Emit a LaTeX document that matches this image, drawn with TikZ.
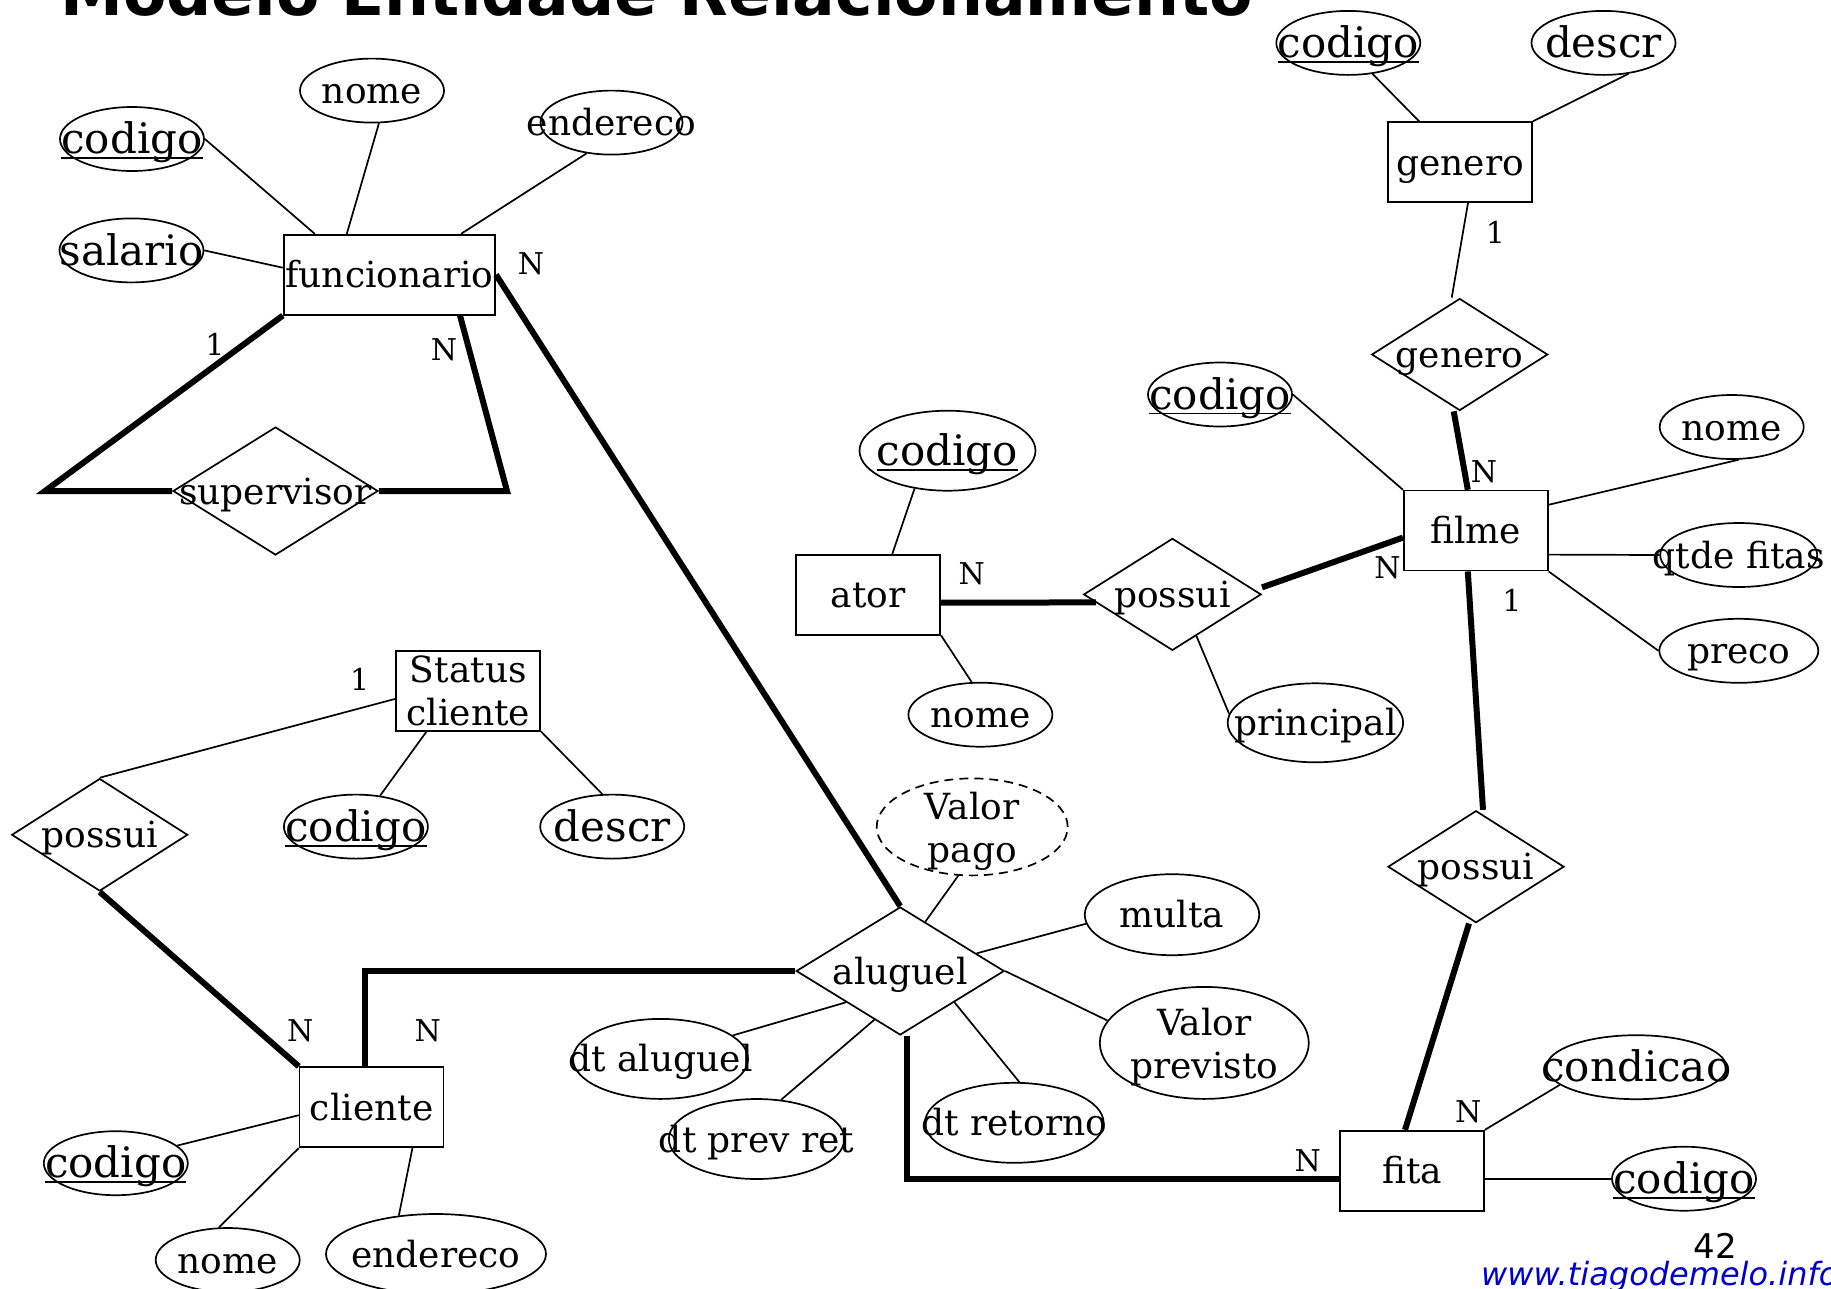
\documentclass[tikz,border=0pt]{standalone}
\usepackage{fontspec}
\setmainfont{DejaVu Serif}
\newfontfamily\titulofont{DejaVu Sans}
\newfontfamily\rodapefont{DejaVu Sans}
\usetikzlibrary{shapes.geometric}
\definecolor{azul}{RGB}{0,0,205}
\newcommand{\fonteN}{\fontsize{36}{43}\selectfont}
\newcommand{\fonteG}{\fontsize{42}{50}\selectfont}
\newcommand{\sublinha}[1]{\setbox0=\hbox{#1}\rlap{\rule[-0.125em]{\wd0}{1.7pt}}\box0}
\tikzset{
	forma/.style={draw, line width=1.7pt, inner sep=0pt},
	lin/.style={text height=26pt, text depth=0pt},
	ling/.style={font=\fonteG, text height=29.4pt, text depth=0pt},
	every label/.style={inner sep=0pt, align=center, font=\fonteN},
	atrib/.style={forma, ellipse, minimum width=144pt, minimum height=64pt, label={[lin]center:#1}},
	atribm/.style={forma, ellipse, minimum width=144pt, minimum height=64pt, label={[yshift=-4pt]center:#1}},
	atribg/.style={forma, ellipse, minimum width=144pt, minimum height=64pt, label={[ling]center:#1}},
	chave/.style={forma, ellipse, minimum width=144pt, minimum height=64pt, label={[ling]center:\sublinha{#1}}},
	relac/.style={forma, diamond, minimum width=176pt, minimum height=112pt, label={[lin]center:#1}},
	entbase/.style={forma, rectangle, minimum width=144pt, minimum height=80pt, align=center, font=\fonteN},
	entid/.style={entbase, lin},
	card/.style={inner sep=0pt, font=\fontsize{30}{36}\selectfont},
	liga/.style={line width=1.7pt},
	ligatotal/.style={line width=6pt},
}
\begin{document}
\begin{tikzpicture}[x=1pt, y=-1pt]
	\useasboundingbox (0,0) rectangle (1831,1288);
	%titulo e rodape
	\node[anchor=base west, inner sep=0pt, font=\titulofont\bfseries\fontsize{63.2}{70}\selectfont] (titulo) at (60,15) {Modelo Entidade Relacionamento};
	\node[inner sep=0pt, font=\rodapefont\fontsize{34}{40}\selectfont] (pagina) at (1715,1246) {42};
	\node[anchor=base west, inner sep=0pt, text=azul, font=\rodapefont\itshape\fontsize{32}{38}\selectfont] (site) at (1481,1285) {www.tiagodemelo.info};

	%funcionario
	\node[entid, minimum width=211.5pt] (func) at (389.4,274.7) {funcionario};
	\node[chave=codigo] (fcod) at (132,139) {};
	\node[atrib=nome] (fnome) at (372,90.6) {};
	\node[atrib=endereco, minimum width=142pt] (fend) at (611.5,122.6) {};
	\node[atribg=salario] (fsal) at (131.5,250.4) {};
	\draw[liga] (fcod.east) -- ([xshift=32pt]func.north west);
	\draw[liga] (fnome.-78) -- ([xshift=64pt]func.north west);
	\draw[liga] (fend.-129) -- ([xshift=-35pt]func.north east);
	\draw[liga] (fsal.east) -- ([yshift=7pt]func.west);
	%supervisor
	\node[relac=supervisor, minimum width=205pt, minimum height=128pt] (sup) at (275.5,491) {};
	\coordinate (supE) at (45,491);
	\coordinate (supD) at (507,491);
	\draw[ligatotal] (func.south west) -- (supE) -- (sup.west);
	\draw[ligatotal] (sup.east) -- (supD) -- ([xshift=-36pt]func.south east);
	\node[card] (c1) at (215,344) {1};
	\node[card] (c2) at (444,350) {N};

	%genero
	\node[entid] (genr) at (1460,162.2) {genero};
	\node[chave=codigo] (gcod) at (1348.3,42.9) {};
	\node[atribg=descr] (gdescr) at (1603.5,42.9) {};
	\node[relac=genero] (gend) at (1459.7,354.5) {};
	\draw[liga] (gcod.-52) -- ([xshift=32pt]genr.north west);
	\draw[liga] (gdescr.-51) -- (genr.north east);
	\draw[liga] ([xshift=8pt]genr.south) -- ([xshift=-8pt]gend.north);
	\node[card] (c3) at (1495.5,232.5) {1};

	%filme
	\node[entid] (filme) at (1475.8,530.6) {filme};
	\node[chave=codigo] (fmcod) at (1220,394.5) {};
	\node[atrib=nome] (fmnome) at (1731.7,427) {};
	\node[atrib={qtde fitas}, minimum width=157pt] (qtde) at (1738.7,555) {};
	\node[atrib=preco, minimum width=159pt] (preco) at (1738.8,650.8) {};
	\draw[ligatotal] ([xshift=-6pt]gend.south) -- ([xshift=-8pt]filme.north);
	\draw[liga] (fmcod.east) -- (filme.north west);
	\draw[liga] (fmnome.-78) -- ([yshift=-15pt]filme.north east);
	\draw[liga] ([yshift=-24pt]filme.east) -- (qtde.west);
	\draw[liga] (filme.south east) -- (preco.west);
	\node[card] (c4) at (1484,471.6) {N};
	\node[card] (c5) at (1387.6,567.8) {N};
	\node[card] (c6) at (1511.8,600) {1};

	%ator
	\node[entid] (ator) at (868.3,594.7) {ator};
	\node[chave=codigo, minimum width=176pt, minimum height=80pt] (acod) at (947.5,450.7) {};
	\node[atrib=nome] (anome) at (980.4,714.7) {};
	\node[relac=possui, minimum width=177.5pt] (pos1) at (1172.4,594.4) {};
	\node[atrib=principal, minimum width=175.5pt, minimum height=79pt] (princ) at (1315.4,722.8) {};
	\draw[liga] (acod.-131) -- ([xshift=24pt]ator.north);
	\draw[liga] (ator.south east) -- (anome.105);
	\draw[ligatotal] ([yshift=-8pt]ator.east) -- ([xshift=13pt,yshift=-8pt]pos1.west);
	\draw[liga] (pos1.-60) -- (princ.174);
	\draw[ligatotal] ([yshift=7pt]pos1.east) -- ([yshift=-7pt]filme.west);
	\node[card] (c7) at (971.7,574) {N};

	%status cliente
	\node[entbase] (status) at (468.3,690.8) {Status\\cliente};
	\node[chave=codigo] (stcod) at (355.9,826.6) {};
	\node[atribg=descr] (stdescr) at (612.2,826.6) {};
	\node[relac=possui, minimum height=112.5pt] (pst) at (99.7,834.8) {};
	\draw[liga] ([xshift=31pt]status.south west) -- (stcod.52);
	\draw[liga] (status.south east) -- (stdescr.107);
	\draw[liga] ([yshift=-8pt]status.west) -- (pst.north);
	\node[card] (c8) at (359.7,679) {1};

	%cliente
	\node[entid] (cli) at (371.6,1107.2) {cliente};
	\node[chave=codigo] (ccod) at (115.8,1163.2) {};
	\node[atrib=nome] (cnome) at (227.7,1260) {};
	\node[atrib=endereco, minimum width=220pt, minimum height=80pt] (cend) at (436,1254) {};
	\draw[ligatotal] (pst.south) -- (cli.north west);
	\draw[liga] ([yshift=-8pt]cli.west) -- (ccod.16);
	\draw[liga] (cli.south west) -- (cnome.105);
	\draw[liga] ([xshift=-32pt]cli.south east) -- (cend.134);
	\node[card] (c9) at (300.3,1031) {N};
	\node[card] (c10) at (427.8,1031) {N};

	%aluguel
	\node[relac=aluguel, minimum width=208pt, minimum height=128pt] (alug) at (900.2,971) {};
	\node[atribm={Valor\\pago}, dash pattern=on 9pt off 6pt, minimum width=191pt, minimum height=97pt] (vpago) at (972.2,826.9) {};
	\node[atrib=multa, minimum width=174.5pt, minimum height=81pt] (multa) at (1172,914.7) {};
	\node[atribm={Valor\\previsto}, minimum width=209pt, minimum height=112pt] (vprev) at (1204.3,1042.9) {};
	\node[atrib={dt aluguel}, minimum width=175pt, minimum height=80pt] (dtal) at (660.5,1058.9) {};
	\node[atrib={dt prev ret}, minimum width=175.5pt, minimum height=80pt] (dtprev) at (756.6,1139) {};
	\node[atrib={dt retorno}, minimum width=178.6pt, minimum height=80pt] (dtret) at (1014.3,1122.8) {};
	\draw[ligatotal] (func.east) -- (alug.north);
	\draw[ligatotal] ([xshift=-7pt]cli.north) |- (alug.west);
	\draw[liga] (vpago.-106) -- (alug.63);
	\draw[liga] (alug.13) -- (multa.186);
	\draw[liga] (alug.east) -- (vprev.167);
	\draw[liga] (alug.-150) -- (dtal.18);
	\draw[liga] (alug.-118) -- (dtprev.58);
	\draw[liga] (alug.-30) -- (dtret.83);
	\node[card] (c11) at (531,263.5) {N};

	%fita
	\node[entid] (fita) at (1412,1170.7) {fita};
	\node[relac=possui] (pos2) at (1476,866.7) {};
	\node[atribg=condicao, minimum width=180pt] (cond) at (1636.3,1067.2) {};
	\node[chave=codigo] (ftcod) at (1684,1178.7) {};
	\draw[ligatotal] ([xshift=-8pt]filme.south) -- ([xshift=7pt]pos2.north);
	\draw[ligatotal] ([xshift=-7pt]pos2.south) -- ([xshift=-7pt]fita.north);
	\draw[ligatotal] ([xshift=7pt]alug.south) |- ([yshift=-8pt]fita.west);
	\draw[liga] (fita.north east) -- (cond.-167);
	\draw[liga] ([yshift=-8pt]fita.east) -- (ftcod.west);
	\node[card] (c12) at (1307.8,1160.5) {N};
	\node[card] (c13) at (1468.2,1111.6) {N};
\end{tikzpicture}
\end{document}
